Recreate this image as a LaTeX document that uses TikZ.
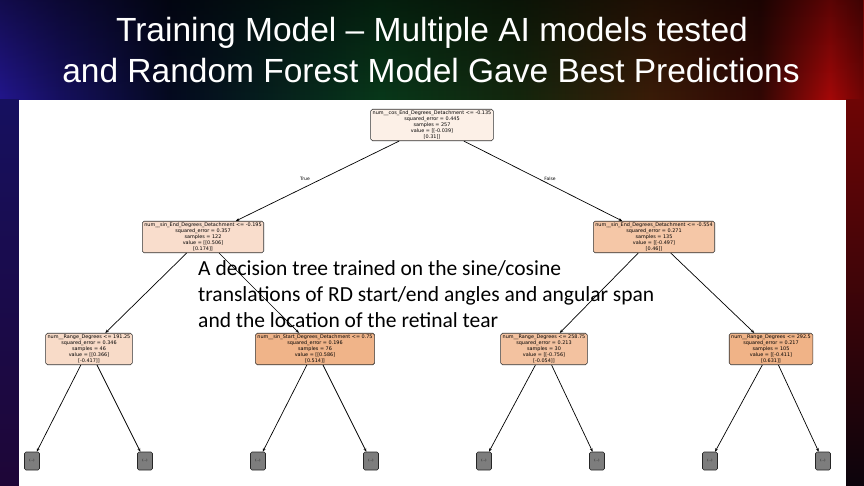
\documentclass[tikz,border=0pt]{standalone}
\usepackage{fontspec}
\setmainfont{Liberation Sans}
\newfontfamily\dvfont{DejaVu Sans}
\newfontfamily\calfont{Carlito}
\usetikzlibrary{arrows.meta,fadings}
\definecolor{bgA}{RGB}{34,22,140}
\definecolor{bgA2}{RGB}{22,16,95}
\definecolor{bgB}{RGB}{5,10,32}
\definecolor{bgC}{RGB}{8,56,26}
\definecolor{bgD}{RGB}{20,38,13}
\definecolor{bgE}{RGB}{58,28,8}
\definecolor{bgF}{RGB}{50,8,5}
\definecolor{bgG}{RGB}{165,8,8}
\definecolor{bgH}{RGB}{110,5,5}
\pgfdeclarehorizontalshading{titlebg}{100bp}{color(0bp)=(bgA); color(25bp)=(bgA); color(28.5bp)=(bgA2); color(34.8bp)=(bgB); color(47bp)=(bgC); color(55bp)=(bgD); color(62.6bp)=(bgE); color(69bp)=(bgF); color(73bp)=(bgG); color(75bp)=(bgH); color(100bp)=(bgH)}
\definecolor{cRoot}{RGB}{252,240,231}
\definecolor{cL}{RGB}{249,221,204}
\definecolor{cR}{RGB}{245,199,167}
\definecolor{cA}{RGB}{248,219,200}
\definecolor{cB}{RGB}{240,180,137}
\definecolor{cC}{RGB}{243,194,160}
\definecolor{cD}{RGB}{240,179,135}
\definecolor{leafgray}{RGB}{125,125,125}
\tikzset{
  tn/.style={draw=black!80, line width=0.6pt, rounded corners=1.8pt, align=center,
    font=\dvfont\fontsize{4.9}{5.9}\selectfont, inner xsep=2pt, inner ysep=1.8pt},
  leaf/.style={draw=black!85, fill=leafgray, line width=0.6pt, rounded corners=1.5pt,
    minimum width=15pt, minimum height=18pt, inner sep=0pt, font=\dvfont\fontsize{3}{3}\selectfont},
  edge/.style={draw=black, line width=0.7pt, -{Stealth[length=3.5pt,width=2.8pt]}},
  lbl/.style={font=\dvfont\fontsize{4.5}{5}\selectfont},
  ttl/.style={text=white, font=\fontsize{33.5}{40}\selectfont, anchor=base, inner sep=0pt},
  ann/.style={text=black, font=\calfont\fontsize{21.5}{26}\selectfont, anchor=base west, inner sep=0pt}
}
\begin{document}
\begin{tikzpicture}[x=1pt,y=-1pt]
\useasboundingbox (0,0) rectangle (864,486);
\shade[shading=titlebg] (0,0) rectangle (864,486);
\fill[black, opacity=0.45, path fading=south] (0,0) rectangle (864,100);
\shade[top color=bgA2, bottom color={rgb,255:red,30;green,6;blue,55}] (0,100) rectangle (19,486);
\shade[top color=bgH, bottom color={rgb,255:red,12;green,4;blue,12}] (846,100) rectangle (864,486);
\fill[white] (19,100) rectangle (846,486);

\node[ttl] (t1) at (432,42) {Training Model -- Multiple AI models tested};
\node[ttl] (t2) at (431,83) {and Random Forest Model Gave Best Predictions};

\node[tn, fill=cRoot] (root) at (432,125) {num\_\_cos\_End\_Degrees\_Detachment <= -0.135\\squared\_error = 0.445\\samples = 257\\value = [[-0.039]\\{}[0.31]]};
\node[tn, fill=cL] (l1l) at (203,237) {num\_\_sin\_End\_Degrees\_Detachment <= -0.195\\squared\_error = 0.357\\samples = 122\\value = [[0.506]\\{}[0.174]]};
\node[tn, fill=cR] (l1r) at (654,237) {num\_\_sin\_End\_Degrees\_Detachment <= -0.554\\squared\_error = 0.271\\samples = 135\\value = [[-0.497]\\{}[0.46]]};
\node[tn, fill=cA] (a) at (89,349) {num\_\_Range\_Degrees <= 191.25\\squared\_error = 0.346\\samples = 46\\value = [[0.366]\\{}[-0.417]]};
\node[tn, fill=cB] (b) at (315,349) {num\_\_sin\_Start\_Degrees\_Detachment <= 0.75\\squared\_error = 0.196\\samples = 76\\value = [[0.586]\\{}[0.514]]};
\node[tn, fill=cC] (c) at (544,349) {num\_\_Range\_Degrees <= 258.75\\squared\_error = 0.213\\samples = 30\\value = [[-0.756]\\{}[-0.054]]};
\node[tn, fill=cD] (d) at (771,349) {num\_\_Range\_Degrees <= 292.5\\squared\_error = 0.217\\samples = 105\\value = [[-0.411]\\{}[0.631]]};

\node[leaf] (a1) at (32,461) {(...)};
\node[leaf] (a2) at (145,461) {(...)};
\node[leaf] (b1) at (258,461) {(...)};
\node[leaf] (b2) at (371,461) {(...)};
\node[leaf] (c1) at (484,461) {(...)};
\node[leaf] (c2) at (597,461) {(...)};
\node[leaf] (d1) at (710,461) {(...)};
\node[leaf] (d2) at (823,461) {(...)};

\draw[edge] (root) -- (l1l);
\draw[edge] (root) -- (l1r);
\draw[edge] (l1l) -- (a);
\draw[edge] (l1l) -- (b);
\draw[edge] (l1r) -- (c);
\draw[edge] (l1r) -- (d);
\draw[edge] (a) -- (a1);
\draw[edge] (a) -- (a2);
\draw[edge] (b) -- (b1);
\draw[edge] (b) -- (b2);
\draw[edge] (c) -- (c1);
\draw[edge] (c) -- (c2);
\draw[edge] (d) -- (d1);
\draw[edge] (d) -- (d2);

\node[lbl] (tru) at (305,179) {True};
\node[lbl] (fal) at (550,179) {False};

\node[ann] (n1) at (198,275) {A decision tree trained on the sine/cosine};
\node[ann] (n2) at (198,301) {translations of RD start/end angles and angular span};
\node[ann] (n3) at (198,327) {and the location of the retinal tear};
\end{tikzpicture}
\end{document}
